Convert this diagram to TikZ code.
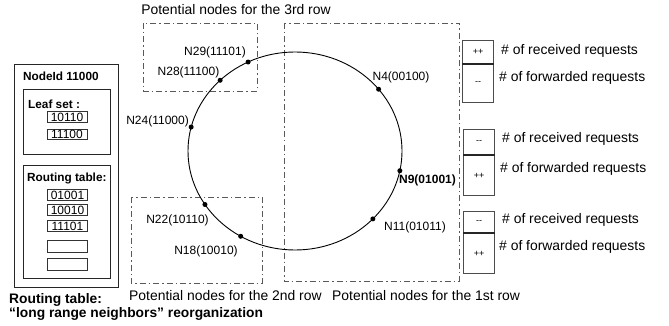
\documentclass[tikz,border=0pt]{standalone}
\usepackage{fontspec}
\setmainfont{Liberation Sans}
\usetikzlibrary{calc}

\begin{document}
\begin{tikzpicture}[x=1pt,y=-1pt,
  region/.style={draw=black!65, line width=0.8pt,
    dash pattern=on 6pt off 3pt on 1.5pt off 3pt},
  ring/.style={draw=black, line width=0.9pt},
  peer/.style={circle, fill=black, inner sep=0pt, minimum size=5pt},
  peerlabel/.style={font=\fontsize{12}{14}\selectfont, inner sep=0pt},
  caption/.style={font=\fontsize{13.9}{16}\selectfont, inner sep=0pt},
  boldcaption/.style={font=\bfseries\fontsize{13.8}{16}\selectfont, inner sep=0pt, anchor=west},
  panelhead/.style={font=\bfseries\fontsize{11.8}{14}\selectfont, inner sep=0pt, anchor=west},
  frame/.style={draw=black!85, line width=0.9pt},
  entry/.style={draw=black!80, line width=0.8pt, minimum width=40pt, minimum height=10.5pt,
    inner sep=0pt, font=\fontsize{12}{14}\selectfont},
  counter/.style={draw=black!70, line width=1pt, minimum width=31pt, inner sep=0pt,
    font=\fontsize{9}{10}\selectfont},
  divider/.style={draw=black!85, line width=1.7pt},
  countertext/.style={font=\fontsize{13.9}{16}\selectfont, inner sep=0pt, anchor=west}
]
\useasboundingbox (0,0) rectangle (669,326);

% candidate regions for each routing table row
\draw[region] (143,23) rectangle (257,91);
\draw[region] (131,197) rectangle (262,283);
\draw[region] (284,23) rectangle (459,281);

\node[caption] (t3) at (236,9.5) {Potential nodes for the 3rd row};
\node[caption, anchor=west] (t2) at (129,296) {Potential nodes for the 2nd row};
\node[caption, anchor=west] (t1) at (332,295.5) {Potential nodes for the 1st row};

% the identifier ring
\coordinate (c) at (295,151);
\draw[ring] (c) ellipse [x radius=107pt, y radius=99pt];

\node[peer] (n29) at ($(c)+({107*cos(244)},{99*sin(244)})$) {};
\node[peer] (n28) at ($(c)+({107*cos(225.6)},{99*sin(225.6)})$) {};
\node[peer] (n24) at ($(c)+({107*cos(194)},{99*sin(194)})$) {};
\node[peer] (n22) at ($(c)+({107*cos(147.3)},{99*sin(147.3)})$) {};
\node[peer] (n18) at ($(c)+({107*cos(120.5)},{99*sin(120.5)})$) {};
\node[peer] (n4)  at ($(c)+({107*cos(321.4)},{99*sin(321.4)})$) {};
\node[peer] (n9)  at ($(c)+({107*cos(11.5)},{99*sin(11.5)})$) {};
\node[peer] (n11) at ($(c)+({107*cos(43.3)},{99*sin(43.3)})$) {};

\node[peerlabel] (l29) at (215,52) {N29(11101)};
\node[peerlabel] (l28) at (188.5,72) {N28(11100)};
\node[peerlabel, anchor=east] (l24) at (189,121) {N24(11000)};
\node[peerlabel] (l22) at (177.5,220) {N22(10110)};
\node[peerlabel] (l18) at (206,251) {N18(10010)};
\node[peerlabel] (l4)  at (401,77) {N4(00100)};
\node[peerlabel, font=\bfseries\fontsize{12}{14}\selectfont] (l9) at (427.5,180) {N9(01001)};
\node[peerlabel] (l11) at (415,227) {N11(01011)};

% state kept by node 11000
\draw[frame] (14,64) rectangle (118,287);
\node[panelhead] (nid) at (23,76) {NodeId 11000};
\draw[frame] (23,89) rectangle (110,154);
\node[panelhead] (ls) at (28,104) {Leaf set :};
\node[entry] (ls1) at (67,117) {10110};
\node[entry] (ls2) at (67,134.5) {11100};
\draw[frame] (23,165) rectangle (110,278);
\node[panelhead] (rt) at (27,178) {Routing table:};
\node[entry] (rt1) at (67.5,195) {01001};
\node[entry] (rt2) at (67.5,210) {10010};
\node[entry] (rt3) at (67.5,226) {11101};
\node[entry, minimum height=12pt] (rt4) at (67.5,246) {};
\node[entry, minimum height=12pt] (rt5) at (67.5,264) {};

\node[boldcaption] (cap1) at (9,299.5) {Routing table:};
\node[boldcaption] (cap2) at (9,314) {“long range neighbors” reorganization};

% request counters
\node[counter, minimum height=23pt, anchor=north west] (a1) at (462,40) {++};
\node[counter, minimum height=38pt, anchor=north west] (a2) at (a1.south west) {-\kern0pt-};
\draw[divider] (a1.south west) -- (a1.south east);
\node[countertext] (a1t) at (501,51) {\# of received requests};
\node[countertext] (a2t) at (499,78) {\# of forwarded requests};

\node[counter, minimum height=25pt, anchor=north west] (b1) at (463,129) {-\kern0pt-};
\node[counter, minimum height=40pt, anchor=north west] (b2) at (b1.south west) {++};
\draw[divider] (b1.south west) -- (b1.south east);
\node[countertext] (b1t) at (502,139) {\# of received requests};
\node[countertext] (b2t) at (500,169) {\# of forwarded requests};

\node[counter, minimum height=21pt, anchor=north west] (d1) at (463,211) {-\kern0pt-};
\node[counter, minimum height=40pt, anchor=north west] (d2) at (d1.south west) {++};
\draw[divider] (d1.south west) -- (d1.south east);
\node[countertext] (d1t) at (502,220) {\# of received requests};
\node[countertext] (d2t) at (499,247) {\# of forwarded requests};
\end{tikzpicture}
\end{document}
